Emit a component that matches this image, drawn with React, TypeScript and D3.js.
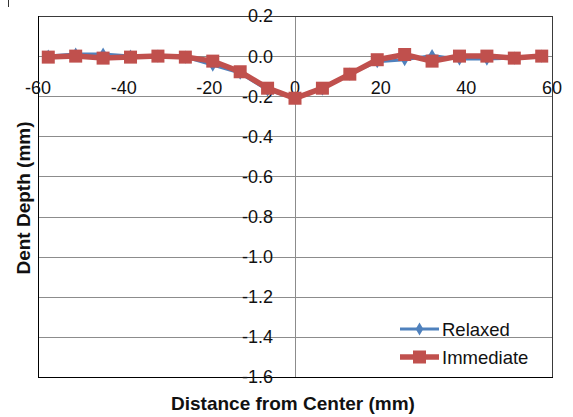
import React from "react";
import * as d3 from "d3";

// Distance from dent center (mm)
const distances = [-57.6, -51.2, -44.8, -38.4, -32, -25.6, -19.2, -12.8, -6.4, 0, 6.4, 12.8, 19.2, 25.6, 32, 38.4, 44.8, 51.2, 57.6];
// Dent depth (mm) measured right after indentation
const immediate = [-0.005, 0.0, -0.01, -0.005, 0.0, -0.005, -0.025, -0.078, -0.16, -0.21, -0.16, -0.09, -0.018, 0.008, -0.025, 0.0, 0.0, -0.01, 0.0];
// Dent depth (mm) after relaxation
const relaxed = [0.0, 0.01, 0.01, 0.0, 0.0, -0.005, -0.045, -0.085, -0.17, -0.21, -0.165, -0.09, -0.028, -0.018, 0.003, -0.015, -0.015, -0.01, 0.0];

const xTicks = [-60, -40, -20, 0, 20, 40, 60];
const yTicks = [0.2, 0.0, -0.2, -0.4, -0.6, -0.8, -1.0, -1.2, -1.4, -1.6];

const W = 573;
const H = 417;
const plot = { left: 38, right: 552, top: 16, bottom: 377 };
const FONT = "'Liberation Sans', Arial, sans-serif";
const BLUE = "#4F81BD";
const RED = "#C0504D";
const SQ = 13;

export default function App() {
  const x = d3.scaleLinear().domain([-60, 60]).range([plot.left, plot.right]);
  const y = d3.scaleLinear().domain([-1.6, 0.2]).range([plot.bottom, plot.top]);

  const line = d3
    .line<number>()
    .x((_, i) => x(distances[i]))
    .y((v) => y(v));

  const diamond = d3.symbol().type(d3.symbolDiamond).size(50)() as string;

  return (
    <svg
      width={W}
      height={H}
      style={{ position: "absolute", left: 0, top: 0, background: "#fff" }}
    >
      <rect x={0} y={0} width={W} height={H} fill="#fff" />
      <line x1={8.5} x2={8.5} y1={0} y2={7} stroke="#333" strokeWidth={1} />

      {/* horizontal gridlines */}
      {yTicks.map((t) => (
        <line
          key={`g${t}`}
          x1={plot.left}
          x2={plot.right}
          y1={Math.round(y(t)) + 0.5}
          y2={Math.round(y(t)) + 0.5}
          stroke="#8c8c8c"
          strokeWidth={1}
        />
      ))}
      {/* vertical value axis at x = 0 */}
      <line
        x1={Math.round(x(0)) + 0.5}
        x2={Math.round(x(0)) + 0.5}
        y1={plot.top}
        y2={plot.bottom}
        stroke="#8c8c8c"
        strokeWidth={1}
      />

      {/* plot border */}
      <rect
        x={plot.left + 0.5}
        y={plot.top + 0.5}
        width={plot.right - plot.left}
        height={plot.bottom - plot.top}
        fill="none"
        stroke="#3a3a3a"
        strokeWidth={1}
      />
      <line x1={plot.left + 0.5} x2={plot.left + 0.5} y1={plot.top} y2={plot.bottom + 1} stroke="#000" />
      <line x1={plot.left} x2={plot.right + 1} y1={plot.bottom + 0.5} y2={plot.bottom + 0.5} stroke="#000" />

      {/* y tick labels next to the value axis */}
      {yTicks.map((t) => (
        <text
          key={`yl${t}`}
          x={x(0) - 22}
          y={y(t)}
          dy="0.36em"
          textAnchor="end"
          fontFamily={FONT}
          fontSize={18}
          fill="#111"
        >
          {d3.format(".1f")(t).replace("−", "-")}
        </text>
      ))}

      {/* x tick labels below the zero line */}
      {xTicks.map((t) => (
        <text
          key={`xl${t}`}
          x={x(t)}
          y={y(0) + 31}
          dy="0.36em"
          textAnchor="middle"
          fontFamily={FONT}
          fontSize={18}
          fill="#111"
        >
          {String(t)}
        </text>
      ))}

      {/* Relaxed series */}
      <path d={line(relaxed) ?? ""} fill="none" stroke={BLUE} strokeWidth={3} />
      {relaxed.map((v, i) => (
        <path
          key={`r${i}`}
          d={diamond}
          transform={`translate(${x(distances[i])},${y(v)})`}
          fill={BLUE}
        />
      ))}

      {/* Immediate series */}
      <path d={line(immediate) ?? ""} fill="none" stroke={RED} strokeWidth={5.5} />
      {immediate.map((v, i) => (
        <rect
          key={`m${i}`}
          x={x(distances[i]) - SQ / 2}
          y={y(v) - SQ / 2}
          width={SQ}
          height={SQ}
          fill={RED}
        />
      ))}

      {/* legend */}
      <g fontFamily={FONT} fontSize={18.5} fill="#111">
        <line x1={400} x2={439} y1={329} y2={329} stroke={BLUE} strokeWidth={3} />
        <path d={diamond} transform="translate(419.5,329)" fill={BLUE} />
        <text x={442} y={329} dy="0.36em">Relaxed</text>
        <line x1={400} x2={439} y1={357} y2={357} stroke={RED} strokeWidth={5.5} />
        <rect x={419.5 - SQ / 2} y={357 - SQ / 2} width={SQ} height={SQ} fill={RED} />
        <text x={442} y={357} dy="0.36em">Immediate</text>
      </g>

      {/* axis titles */}
      <text
        x={293}
        y={403}
        dy="0.36em"
        textAnchor="middle"
        fontFamily={FONT}
        fontWeight="bold"
        fontSize={19}
        fill="#111"
      >
        Distance from Center (mm)
      </text>
      <text
        transform="translate(23,198) rotate(-90)"
        dy="0.36em"
        textAnchor="middle"
        fontFamily={FONT}
        fontWeight="bold"
        fontSize={19}
        fill="#111"
      >
        Dent Depth (mm)
      </text>
    </svg>
  );
}
